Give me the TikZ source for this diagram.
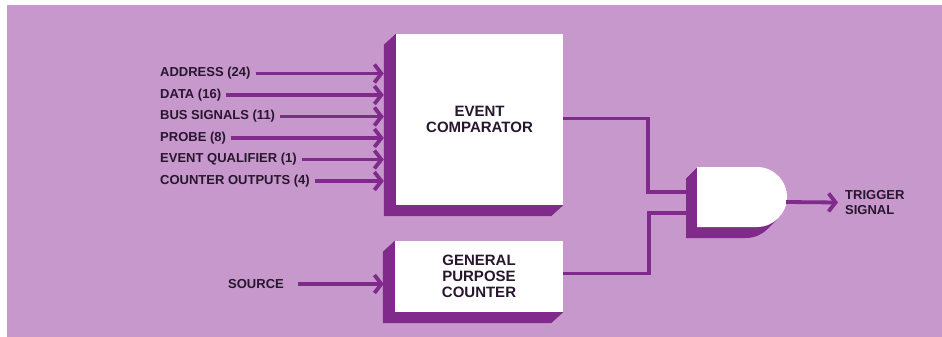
\documentclass[tikz,border=0pt]{standalone}
\usepackage{fontspec}
\setmainfont{Liberation Sans}
\usetikzlibrary{arrows.meta,positioning}
\definecolor{panel}{RGB}{198,152,204}
\definecolor{wire}{RGB}{128,42,140}
\definecolor{ink}{RGB}{40,22,46}

\begin{document}
\begin{tikzpicture}[x=1pt,y=-1pt,
    lbl/.style={font=\fontsize{13}{15}\selectfont\bfseries, text=ink, inner sep=0pt},
    block/.style={lbl, font=\fontsize{15}{16}\selectfont\bfseries, fill=white, align=center},
    link/.style={line width=3.8pt, draw=wire},
    sig/.style={link, -{Straight Barb[length=7pt,width=18pt]}}]
    % Page and panel
    \useasboundingbox (0,0) rectangle (942,337);
    \fill[panel] (7,5) rectangle (942,337);
    % Event comparator with its shaded side
    \node[block, minimum width=167pt, minimum height=171pt] (cmp) at (479.5,119.5) {EVENT\\COMPARATOR};
    \fill[wire] (cmp.north west) -- ([shift={(-12,11)}]cmp.north west) -- ([shift={(-12,11)}]cmp.south west)
        -- ([shift={(-12,11)}]cmp.south east) -- (cmp.south east) -- (cmp.south west) -- cycle;
    \coordinate (cmpside) at ([xshift=-12pt]cmp.west);
    % Inputs of the comparator
    \foreach \t [count=\i] in {ADDRESS (24), DATA (16), BUS SIGNALS (11), PROBE (8),
        EVENT QUALIFIER (1), COUNTER OUTPUTS (4)} {
        \node[lbl, anchor=west] (in\i) at (160,52+21.5*\i) {\t};
        \draw[sig] ([xshift=5pt]in\i.east) -- (in\i -| cmpside);
    }
    % General purpose counter
    \node[block, minimum width=168pt, minimum height=71pt] (cnt) at (479,276.5) {GENERAL\\PURPOSE\\COUNTER};
    \fill[wire] (cnt.north west) -- ([shift={(-12,11)}]cnt.north west) -- ([shift={(-12,11)}]cnt.south west)
        -- ([shift={(-12,11)}]cnt.south east) -- (cnt.south east) -- (cnt.south west) -- cycle;
    \node[lbl, anchor=west] (src) at (228,284) {SOURCE};
    \draw[sig] ([xshift=14pt]src.east) -- (src -| cmpside);
    % AND gate
    \foreach \d in {1,...,11}
        \fill[wire, shift={(-\d,\d)}] (697,167) -- (757,167) arc[start angle=-90, end angle=90, radius=30] -- (697,227) -- cycle;
    \fill[white] (697,167) -- (757,167) arc[start angle=-90, end angle=90, radius=30] -- (697,227) -- cycle;
    \coordinate (gin1) at (686,192);
    \coordinate (gin2) at (686,213);
    \coordinate (gout) at (786,202);
    % Wires into the gate
    \draw[link] ([yshift=1pt]cmp.east) -- ++(85,0) |- (gin1);
    \draw[link] ([yshift=3pt]cnt.east) -- ++(86,0) |- (gin2);
    % Output
    \node[lbl, anchor=west, align=left] (trig) at (845,202.5) {TRIGGER\\SIGNAL};
    \draw[sig] (gout) -- ([xshift=-7pt]trig.west);
\end{tikzpicture}
\end{document}
